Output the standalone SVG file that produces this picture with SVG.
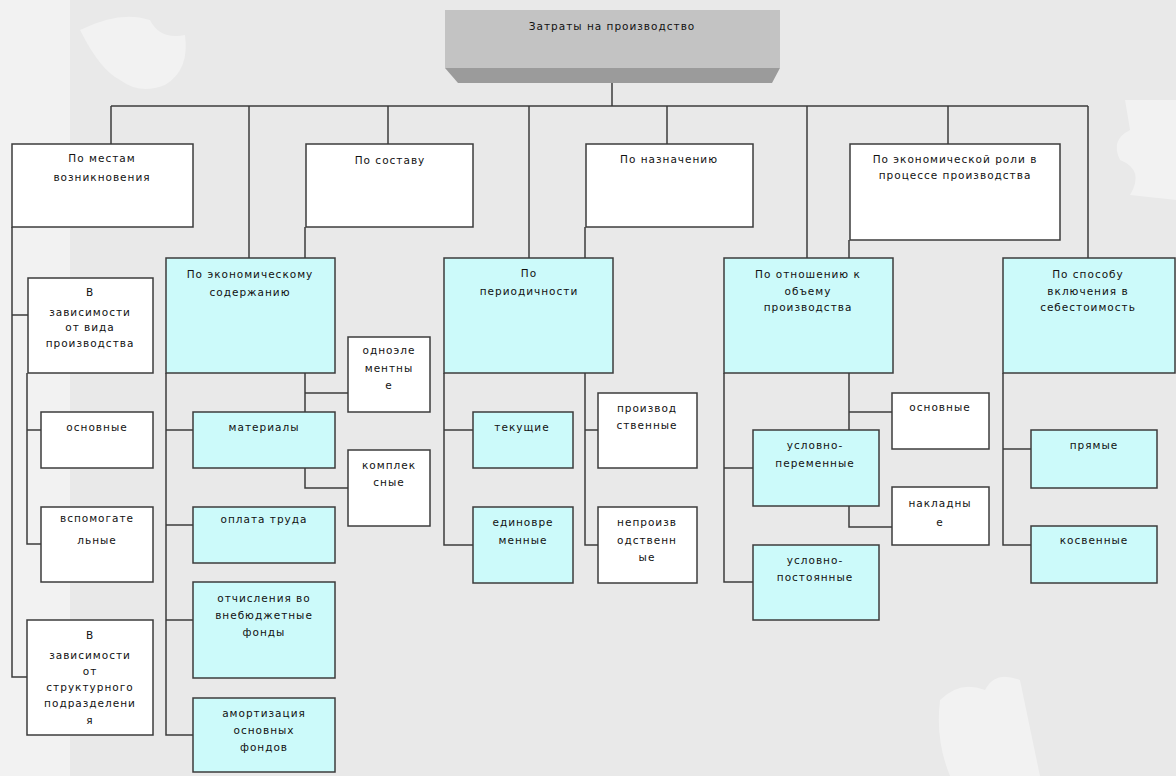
<svg xmlns="http://www.w3.org/2000/svg" width="1176" height="776" viewBox="0 0 1176 776">
<style>
.bx{fill:#ffffff;stroke:#3c3c3c;stroke-width:1.5}
.cy{fill:#ccfafa;stroke:#3c3c3c;stroke-width:1.5}
.ln{fill:none;stroke:#3c3c3c;stroke-width:1.5}
text{font-family:"DejaVu Sans","Liberation Sans",sans-serif;font-size:10.5px;letter-spacing:1px;text-anchor:middle;fill:#111111}
.bg{fill:#ffffff;opacity:0.4}
</style>
<rect x="0" y="0" width="1176" height="776" fill="#e9e9e9"/>
<g id="background">
<rect x="0" y="0" width="70" height="776" class="bg"/>
<path class="bg" d="M80 30 Q120 10 150 20 Q160 40 185 35 Q190 70 165 85 Q140 95 120 80 Q100 70 80 30 Z"/>
<path class="bg" d="M1125 100 L1176 100 L1176 200 L1130 195 Q1145 170 1120 160 Q1110 140 1130 130 Z"/>
<path class="bg" d="M940 700 Q960 680 985 690 Q995 670 1020 680 L1040 776 L950 776 Q935 740 940 700 Z"/>
</g>
<g id="connectors">
<path class="ln" d="M612 83 V106 M111 106 H1088 M111 106 V144 M249 106 V258 M388 106 V144 M529 106 V258 M667 106 V144 M807 106 V258 M948 106 V144 M1088 106 V258"/>
<path class="ln" d="M305 227 V258 M585 227 V258 M849 240 V258"/>
<path class="ln" d="M12 227 V677 H27 M12 315 H28 M27 373 V544 H41 M27 430 H41"/>
<path class="ln" d="M166 373 V735 H193 M166 430 H193 M166 525 H193 M166 620 H193"/>
<path class="ln" d="M305 373 V488 H348 M305 393 H348"/>
<path class="ln" d="M444 373 V545 H473 M444 430 H473"/>
<path class="ln" d="M585 373 V545 H598 M585 430 H598"/>
<path class="ln" d="M724 373 V582 H753 M724 468 H753"/>
<path class="ln" d="M849 373 V527 H892 M849 412 H892"/>
<path class="ln" d="M1003 373 V545 H1031 M1003 449 H1031"/>
</g>
<g id="root">
<rect x="445" y="10" width="335" height="58" fill="#c3c3c3"/>
<polygon points="445,68 780,68 772,83 458,83" fill="#9b9b9b"/>
<text x="612" y="30">Затраты на производство</text>
</g>
<g id="po-mestam"><rect class="bx" x="12" y="144" width="181" height="83"/><text x="102" y="162">По местам</text><text x="102" y="181">возникновения</text></g>
<g id="po-sostavu"><rect class="bx" x="306" y="144" width="167" height="83"/><text x="390" y="164">По составу</text></g>
<g id="po-naznacheniyu"><rect class="bx" x="586" y="144" width="167" height="83"/><text x="669" y="163">По назначению</text></g>
<g id="po-roli"><rect class="bx" x="850" y="144" width="210" height="96"/><text x="955" y="163">По экономической роли в</text><text x="955" y="179">процессе производства</text></g>
<g id="vid"><rect class="bx" x="28" y="278" width="125" height="95"/><text x="90" y="296">В</text><text x="90" y="316">зависимости</text><text x="90" y="331">от вида</text><text x="90" y="347">производства</text></g>
<g id="osnovnye1"><rect class="bx" x="41" y="412" width="112" height="56"/><text x="97" y="431">основные</text></g>
<g id="vspom"><rect class="bx" x="41" y="507" width="112" height="75"/><text x="97" y="522">вспомогате</text><text x="97" y="544">льные</text></g>
<g id="strukt"><rect class="bx" x="27" y="620" width="126" height="115"/><text x="90" y="639">В</text><text x="90" y="659">зависимости</text><text x="90" y="675">от</text><text x="90" y="691">структурного</text><text x="90" y="707">подразделени</text><text x="90" y="724">я</text></g>
<g id="ek-soderzh"><rect class="cy" x="166" y="258" width="169" height="115"/><text x="250" y="278">По экономическому</text><text x="250" y="296">содержанию</text></g>
<g id="odnoelem"><rect class="bx" x="348" y="337" width="82" height="75"/><text x="389" y="354">одноэле</text><text x="389" y="372">ментны</text><text x="389" y="389">е</text></g>
<g id="materialy"><rect class="cy" x="193" y="412" width="142" height="56"/><text x="264" y="431">материалы</text></g>
<g id="kompleks"><rect class="bx" x="348" y="450" width="82" height="76"/><text x="389" y="469">комплек</text><text x="389" y="486">сные</text></g>
<g id="oplata"><rect class="cy" x="193" y="507" width="142" height="56"/><text x="264" y="523">оплата труда</text></g>
<g id="otchisl"><rect class="cy" x="193" y="582" width="142" height="96"/><text x="264" y="602">отчисления во</text><text x="264" y="619">внебюджетные</text><text x="264" y="636">фонды</text></g>
<g id="amort"><rect class="cy" x="193" y="698" width="142" height="74"/><text x="264" y="717">амортизация</text><text x="264" y="734">основных</text><text x="264" y="751">фондов</text></g>
<g id="period"><rect class="cy" x="444" y="258" width="169" height="115"/><text x="529" y="277">По</text><text x="529" y="295">периодичности</text></g>
<g id="tekushie"><rect class="cy" x="473" y="412" width="100" height="56"/><text x="522" y="431">текущие</text></g>
<g id="edinovr"><rect class="cy" x="473" y="507" width="100" height="76"/><text x="523" y="526">единовре</text><text x="523" y="544">менные</text></g>
<g id="proizv"><rect class="bx" x="598" y="393" width="99" height="75"/><text x="647" y="412">производ</text><text x="647" y="429">ственные</text></g>
<g id="neproizv"><rect class="bx" x="598" y="507" width="99" height="76"/><text x="647" y="526">непроизв</text><text x="647" y="544">одственн</text><text x="647" y="561">ые</text></g>
<g id="obem"><rect class="cy" x="724" y="258" width="169" height="115"/><text x="808" y="278">По отношению к</text><text x="808" y="295">объему</text><text x="808" y="311">производства</text></g>
<g id="usl-per"><rect class="cy" x="753" y="430" width="126" height="76"/><text x="815" y="449">условно-</text><text x="815" y="467">переменные</text></g>
<g id="usl-post"><rect class="cy" x="753" y="545" width="126" height="75"/><text x="815" y="564">условно-</text><text x="815" y="581">постоянные</text></g>
<g id="osnovnye2"><rect class="bx" x="892" y="393" width="97" height="56"/><text x="940" y="411">основные</text></g>
<g id="nakladnye"><rect class="bx" x="892" y="487" width="97" height="58"/><text x="940" y="507">накладны</text><text x="940" y="526">е</text></g>
<g id="sposob"><rect class="cy" x="1003" y="258" width="172" height="115"/><text x="1088" y="278">По способу</text><text x="1088" y="295">включения в</text><text x="1088" y="311">себестоимость</text></g>
<g id="pryamye"><rect class="cy" x="1031" y="430" width="126" height="58"/><text x="1094" y="449">прямые</text></g>
<g id="kosvennye"><rect class="cy" x="1031" y="526" width="126" height="57"/><text x="1094" y="544">косвенные</text></g>
</svg>
